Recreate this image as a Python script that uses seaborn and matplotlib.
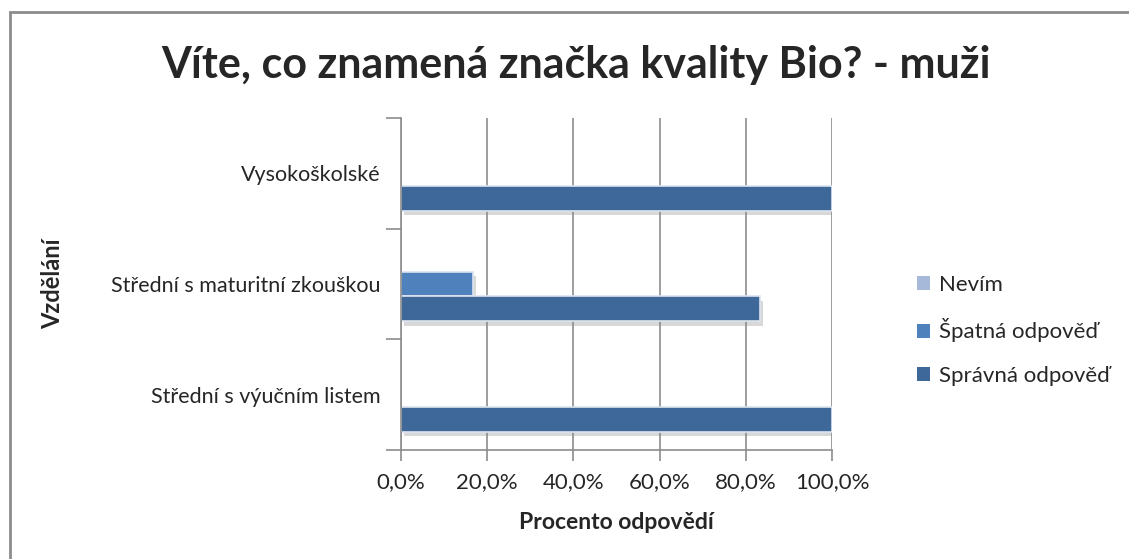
import pandas as pd
import seaborn as sns
import matplotlib.pyplot as plt
import matplotlib.patheffects as pe
from matplotlib.patches import Rectangle, Patch
from matplotlib.ticker import FuncFormatter

# data
vzdelani = ["Vysokoškolské", "Střední s maturitní zkouškou", "Střední s výučním listem"]
odpovedi = ["Nevím", "Špatná odpověď", "Správná odpověď"]
nevim = [0.0, 0.0, 0.0]
spatna = [0.0, 16.7, 0.0]
spravna = [100.0, 83.3, 100.0]
barvy = ["#a7b9d9", "#4f81bd", "#3f689a"]

rows = []
for i, v in enumerate(vzdelani):
    rows.append((v, "Nevím", nevim[i]))
    rows.append((v, "Špatná odpověď", spatna[i]))
    rows.append((v, "Správná odpověď", spravna[i]))
df = pd.DataFrame(rows, columns=["Vzdělání", "Odpověď", "Procento"])

sns.set_style("white")
plt.rcParams['font.family'] = ['Lato', 'DejaVu Sans']

fig = plt.figure(figsize=(11.29, 5.59), dpi=100)
ax = fig.add_axes([401/1129, 1 - 450/559, 431/1129, 332/559])

sns.barplot(data=df, y="Vzdělání", x="Procento", hue="Odpověď", order=vzdelani,
            hue_order=odpovedi, palette=barvy, orient="h", width=0.675,
            edgecolor="#dce4f0", linewidth=1.2, saturation=1, legend=False, ax=ax)

for p in ax.patches:
    if p.get_width() == 0:
        p.set_visible(False)
    else:
        p.set_path_effects([pe.SimplePatchShadow(offset=(2, -3), shadow_rgbFace="#909090", alpha=0.35),
                            pe.Normal()])

ax.set_xlim(0, 100)
ax.set_ylim(2.5, -0.5)
ax.set_xticks([0, 20, 40, 60, 80, 100])
ax.xaxis.set_major_formatter(FuncFormatter(lambda x, _: f"{x:.1f}%".replace(".", ",")))
ax.grid(axis="x", color="#8c8c8c", linewidth=1.2)
ax.set_axisbelow(True)

# category ticks at group boundaries
ax.set_yticks([-0.5, 0.5, 1.5, 2.5], minor=True)
ax.tick_params(axis="y", which="minor", length=11, width=1.2, color="#8c8c8c", left=True)
ax.tick_params(axis="y", which="major", length=0, labelsize=15.5, pad=15)
ax.tick_params(axis="x", length=8, width=1.2, color="#8c8c8c", bottom=True, labelsize=16, pad=8)
for lab in ax.get_yticklabels() + ax.get_xticklabels():
    lab.set_color("#262626")

for s in ["top", "right"]:
    ax.spines[s].set_visible(False)
for s in ["left", "bottom"]:
    ax.spines[s].set_color("#8c8c8c")
    ax.spines[s].set_linewidth(1.2)

ax.set_xlabel("Procento odpovědí", fontsize=16.5, fontweight="bold", labelpad=14)
ax.set_ylabel("Vzdělání", fontsize=17, fontweight="bold")
ax.yaxis.set_label_coords(-0.782, 0.5)

handles = [Patch(facecolor=c, edgecolor="none") for c in barvy]
ax.legend(handles, odpovedi, loc="center left", bbox_to_anchor=(1.15, 0.36), frameon=False,
          fontsize=16, handlelength=0.6, handleheight=0.6, handletextpad=0.4,
          labelspacing=1.05, labelcolor="#262626")

fig.suptitle("Víte, co znamená značka kvality Bio? - muži", fontsize=31, fontweight="bold",
             x=576/1129, y=1 - 65/559, va="center")

fig.patches.append(Rectangle((10/1129, -0.1), 1.2, 1 - 12/559 + 0.1, transform=fig.transFigure,
                             fill=False, edgecolor="#8c8c8c", linewidth=2))

fig.savefig("out.png", dpi=100)
